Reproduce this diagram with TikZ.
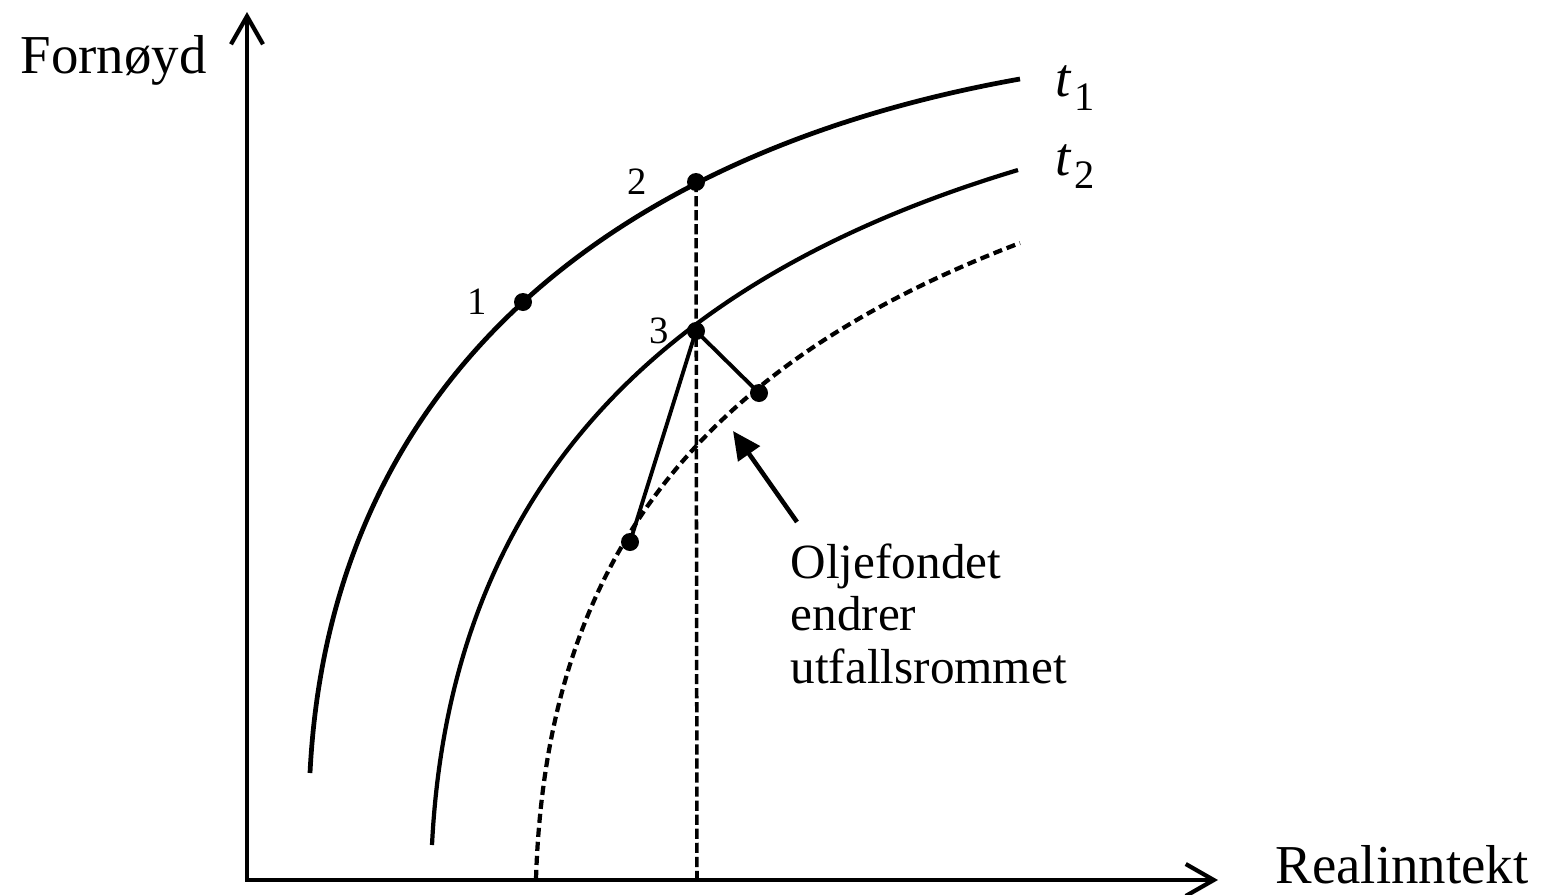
\documentclass[tikz,border=0pt]{standalone}
\usepackage{fontspec}
\setmainfont{Liberation Serif}
\usetikzlibrary{arrows.meta,positioning}

\begin{document}
\begin{tikzpicture}[
  axis/.style={line width=1.2pt, {Straight Barb[length=2.8mm,width=3.2mm,line width=1.2pt]}-{Straight Barb[length=2.8mm,width=3.2mm,line width=1.2pt]}},
  curve/.style={line width=1.2pt},
  dashcurve/.style={line width=1.2pt, dash pattern=on 2.6pt off 1.4pt},
  guide/.style={line width=1pt, dash pattern=on 2.9pt off 1.1pt},
  link/.style={line width=1.1pt},
  pointer/.style={line width=1.3pt, -{Triangle[length=2.8mm,width=2.6mm]}},
  dot/.style={circle, fill, inner sep=0pt, minimum size=1.8mm},
  num/.style={inner sep=0pt, font=\fontsize{11}{13}\selectfont},
  lbl/.style={inner sep=0pt, font=\fontsize{15.6}{18}\selectfont},
  note/.style={inner sep=0pt, align=left, font=\fontsize{14}{14.9}\selectfont}
]
  \useasboundingbox (-2.47,-0.14) rectangle (13.00,8.80);

  % axes
  \coordinate (o) at (0,0);
  \coordinate (ytop) at (0,8.68);
  \coordinate (xend) at (9.71,0);
  \draw[axis] (ytop) -- (o) -- (xend);
  \node[lbl, anchor=base west] (ylab) at (-2.27,8.07) {Fornøyd};
  \node[lbl, anchor=base west] (xlab) at (10.28,-0.03) {Realinntekt};

  % curves
  \draw[curve, line width=1.35pt] (0.63,1.07) .. controls (0.83,5.07) and (3.73,7.30) .. (7.73,8.01);
  \draw[curve] (1.85,0.35) .. controls (2.04,4.15) and (4.41,6.11) .. (7.71,7.10);
  \draw[dashcurve] (2.89,0.01) .. controls (2.99,3.21) and (4.53,5.15) .. (7.73,6.37);
  \node[lbl, anchor=base west] (t1) at (8.08,7.83) {\itshape t\kern1pt\raisebox{-3.7pt}{\upshape\fontsize{11.5}{13}\selectfont 1}};
  \node[lbl, anchor=base west] (t2) at (8.08,7.05) {\itshape t\kern1pt\raisebox{-3.7pt}{\upshape\fontsize{11.5}{13}\selectfont 2}};

  % points
  \node[dot] (p1) at (2.76,5.78) {};
  \node[dot] (p2) at (4.49,6.98) {};
  \node[dot] (p3) at (4.49,5.49) {};
  \node[dot] (p4) at (5.12,4.87) {};
  \node[dot] (p5) at (3.83,3.38) {};
  \node[num, left=0.26cm of p1] (n1) {1};
  \node[num, left=0.39cm of p2] (n2) {2};
  \node[num, left=0.17cm of p3] (n3) {3};

  \coordinate (foot) at (4.50,0);
  \draw[guide] (p2.center) -- (foot);
  \draw[link] (p3.center) -- (p4.center);
  \draw[link] (p3.center) -- (p5.center);

  % callout
  \node[note, anchor=north west] (oil) at (5.43,3.37) {Oljefondet\\endrer\\utfallsrommet};
  \coordinate (tail) at (5.50,3.58);
  \coordinate (head) at (4.86,4.49);
  \draw[pointer] (tail) -- (head);
\end{tikzpicture}
\end{document}
